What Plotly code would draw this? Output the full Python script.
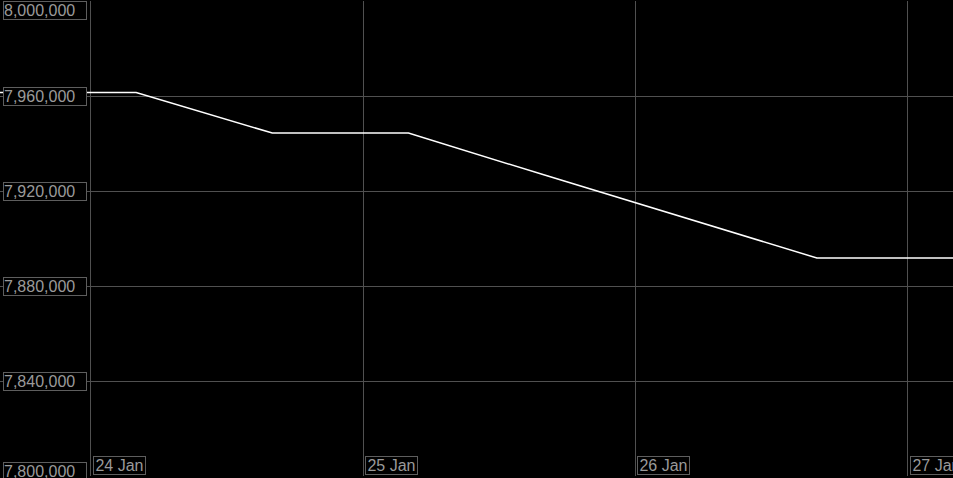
import plotly.graph_objects as go
import pandas as pd

# Dados (intervalos de 12 horas)
times = ['2024-01-23 16:00', '2024-01-24 04:00', '2024-01-24 16:00', '2024-01-25 04:00',
         '2024-01-25 16:00', '2024-01-26 04:00', '2024-01-26 16:00', '2024-01-27 04:00']
values = [7961500, 7961500, 7944400, 7944400, 7926700, 7909100, 7891800, 7891800]

y_ticks = [7800000, 7840000, 7880000, 7920000, 7960000, 8000000]
x_ticks = ['2024-01-24', '2024-01-25', '2024-01-26', '2024-01-27']
x_tick_labels = ['24 Jan', '25 Jan', '26 Jan', '27 Jan']

COLORS = {
    'background': '#000000',
    'grid': '#505050',
    'line': '#ffffff',
    'text': '#9a9a9a',
    'box': '#5e5e5e',
}

FONT = dict(family='Liberation Sans, Arial', size=16, color=COLORS['text'])

fig = go.Figure()

fig.add_trace(go.Scatter(
    x=pd.to_datetime(times),
    y=values,
    mode='lines',
    line=dict(color=COLORS['line'], width=1.5),
    hoverinfo='skip',
    showlegend=False
))

annotations = []
for v in y_ticks:
    if v == y_ticks[-1]:
        yanchor = 'top'
    elif v == y_ticks[0]:
        yanchor = 'bottom'
    else:
        yanchor = 'middle'
    annotations.append(dict(
        x=0, xref='paper', xanchor='left', xshift=3,
        y=v, yref='y', yanchor=yanchor,
        yshift=-5 if v == y_ticks[0] else 0,
        text=f'{v:,}', showarrow=False, font=FONT,
        width=82, align='left',
        bordercolor=COLORS['box'], borderwidth=1, borderpad=0,
        bgcolor=COLORS['background']
    ))

for t, lab in zip(x_ticks, x_tick_labels):
    annotations.append(dict(
        x=t, xref='x', xanchor='left', xshift=2,
        y=0, yref='paper', yanchor='bottom', yshift=1,
        text=lab, showarrow=False, font=FONT,
        width=51, align='center',
        bordercolor=COLORS['box'], borderwidth=1, borderpad=0,
        bgcolor=COLORS['background']
    ))

fig.update_layout(
    width=953, height=478,
    margin=dict(l=0, r=0, t=1, b=2),
    paper_bgcolor=COLORS['background'],
    plot_bgcolor=COLORS['background'],
    annotations=annotations,
    xaxis=dict(
        range=[pd.Timestamp(times[0]), pd.Timestamp(times[-1])],
        tickvals=pd.to_datetime(x_ticks),
        showticklabels=False,
        showgrid=True, gridcolor=COLORS['grid'], gridwidth=1,
        zeroline=False, showline=False
    ),
    yaxis=dict(
        range=[7800000, 8000000],
        tickvals=y_ticks,
        showticklabels=False,
        showgrid=True, gridcolor=COLORS['grid'], gridwidth=1,
        zeroline=False, showline=False
    )
)

# remove a margem padrão do <body> para a figura ocupar a janela toda
fig.write_html(
    "out.html",
    config={'displayModeBar': False},
    post_script="document.body.style.margin='0';document.body.style.background='#000';"
)
